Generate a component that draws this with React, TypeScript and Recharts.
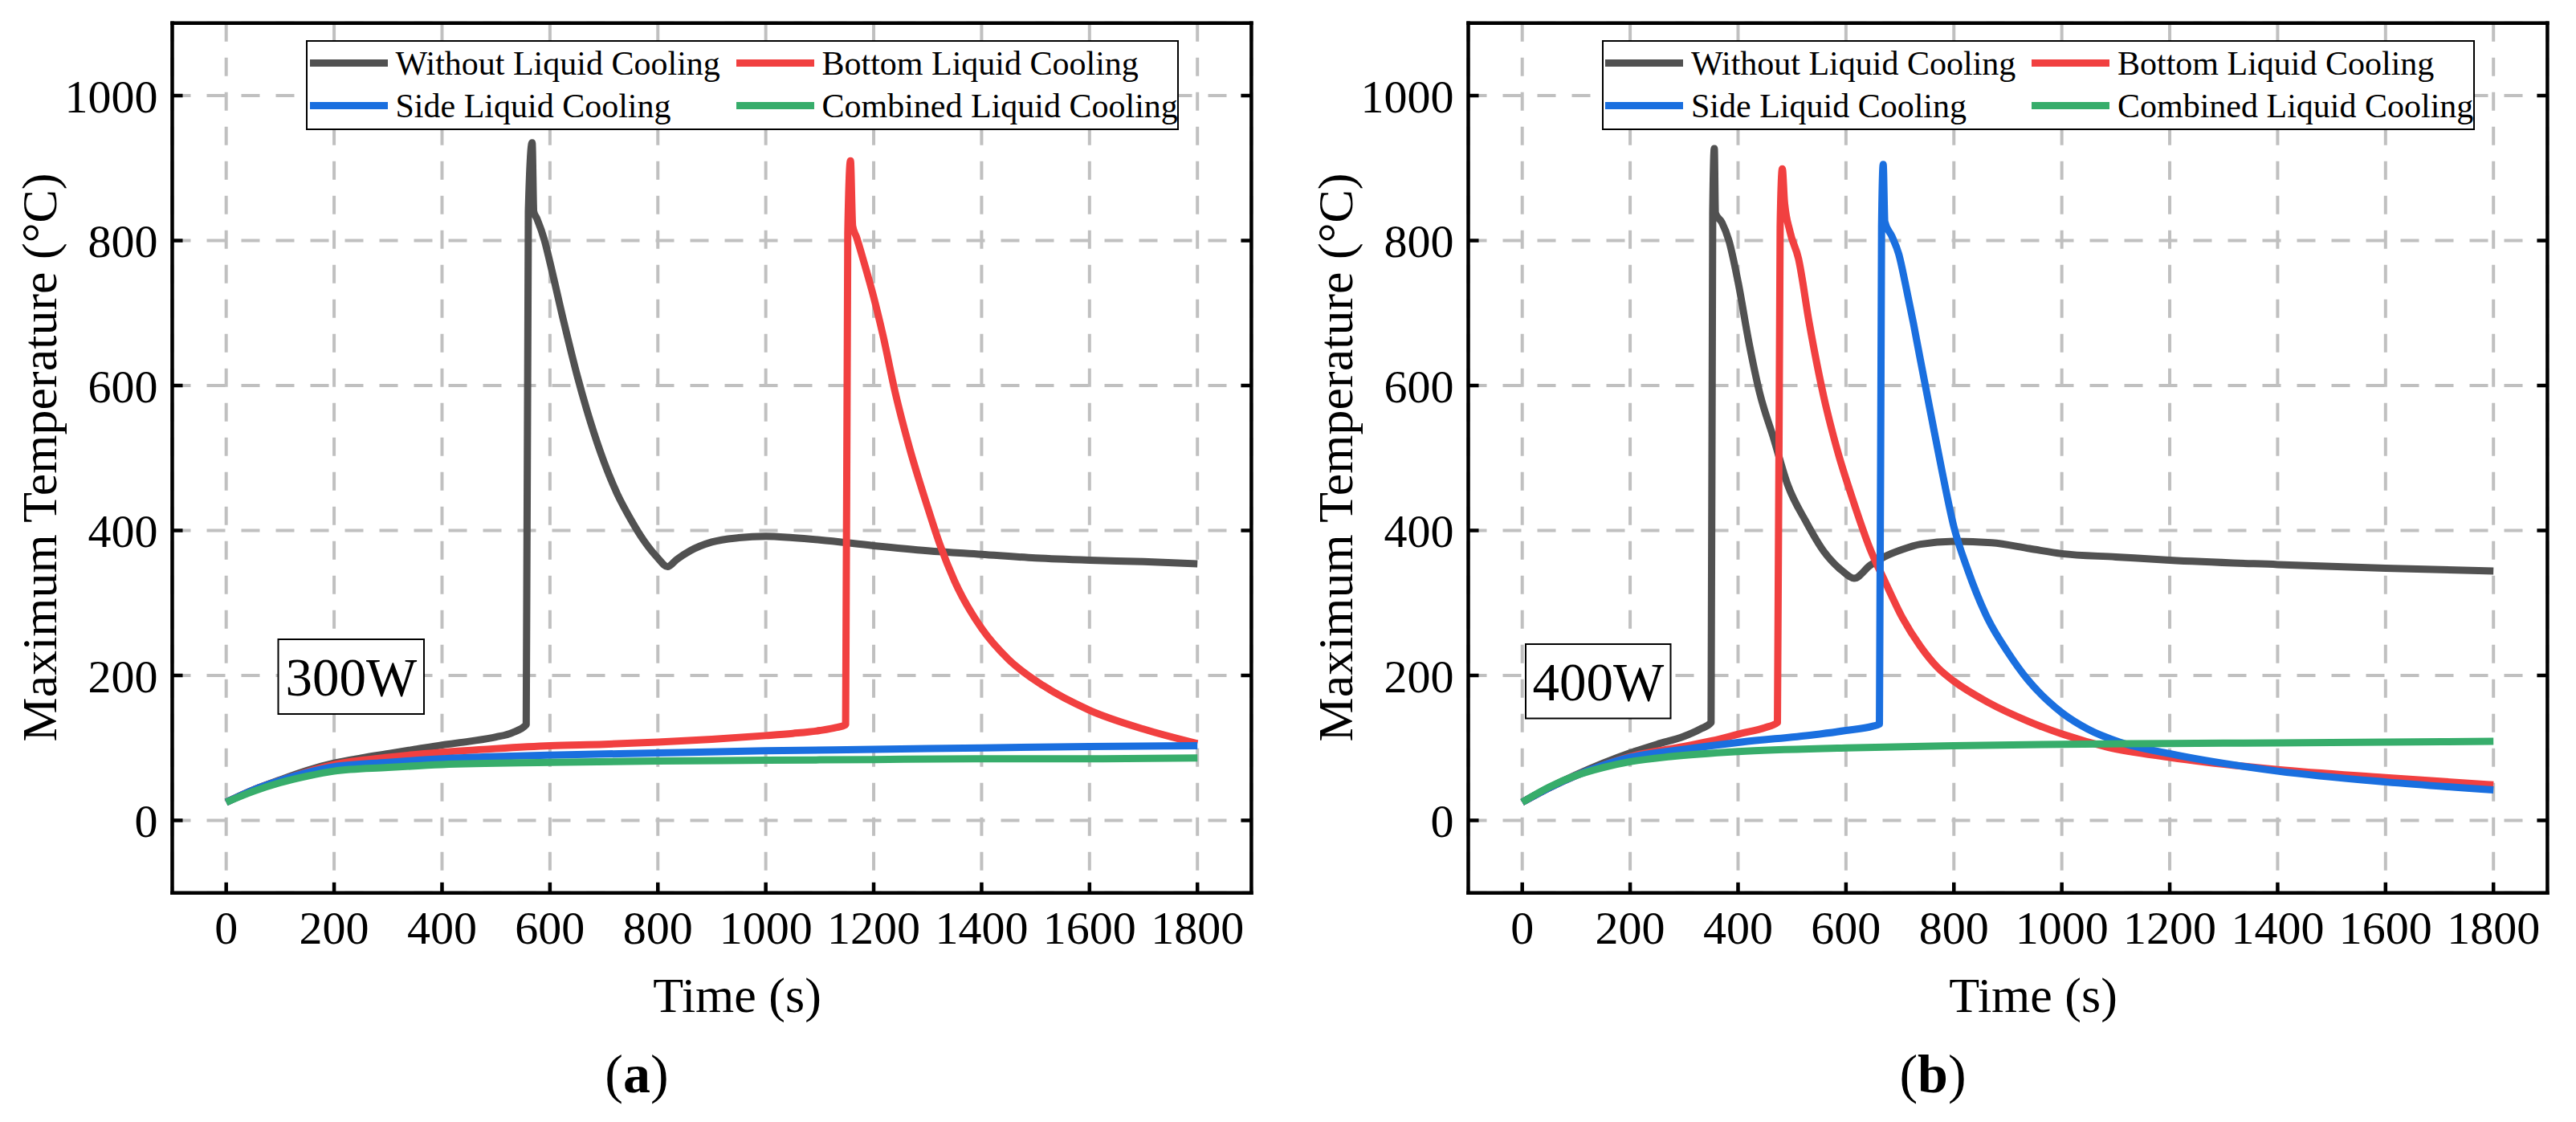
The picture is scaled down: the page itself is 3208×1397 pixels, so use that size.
import { LineChart, Line, XAxis, YAxis, CartesianGrid, Legend } from "recharts";

const FONT = "Liberation Serif, Tinos, Times New Roman, Times, DejaVu Serif, serif";

const X_TICKS = [0, 200, 400, 600, 800, 1000, 1200, 1400, 1600, 1800];
const Y_TICKS = [0, 200, 400, 600, 800, 1000];

const SERIES_NAMES = [
  "Without Liquid Cooling",
  "Bottom Liquid Cooling",
  "Side Liquid Cooling",
  "Combined Liquid Cooling",
];
const SERIES_COLORS = ["#515151", "#F14040", "#1A6FDF", "#37AD6B"];

// (a) 300W
const A_WITHOUT_T = [0, 50, 100, 150, 200, 250, 300, 350, 400, 450, 500, 530, 556, 560, 567, 570, 576, 590, 600, 625, 650, 675, 700, 725, 750, 775, 800, 818, 835, 860, 900, 950, 1000, 1050, 1100, 1200, 1300, 1400, 1500, 1600, 1700, 1800];
const A_WITHOUT_V = [25, 42, 56, 69, 79, 86, 92, 98, 104, 109, 115, 121, 132, 840, 935, 840, 830, 800, 770, 690, 615, 550, 495, 450, 415, 385, 362, 350, 360, 372, 384, 390, 392, 390, 387, 379, 372, 367, 362, 359, 357, 354];
const A_BOTTOM_T = [0, 50, 100, 150, 200, 300, 400, 500, 600, 700, 800, 900, 1000, 1050, 1100, 1130, 1148, 1152, 1157, 1161, 1168, 1182, 1200, 1217, 1240, 1266, 1300, 1323, 1350, 1400, 1450, 1514, 1600, 1700, 1800];
const A_BOTTOM_V = [25, 42, 55, 67, 77, 87, 94, 99, 103, 105, 108, 112, 117, 120, 124, 128, 132, 810, 910, 820, 805, 770, 722, 670, 590, 515, 432, 380, 330, 265, 222, 186, 152, 126, 106];
const A_SIDE_T = [0, 50, 100, 150, 200, 300, 400, 500, 600, 800, 1000, 1200, 1400, 1600, 1800];
const A_SIDE_V = [25, 42, 55, 66, 74, 80, 85, 88, 90, 93, 96, 98, 100, 102, 103];
const A_COMB_T = [0, 50, 100, 150, 200, 300, 400, 600, 800, 1000, 1200, 1400, 1600, 1800];
const A_COMB_V = [25, 40, 52, 61, 68, 73, 77, 80, 82, 83, 84, 85, 85, 86];

// (b) 400W
const B_WITHOUT_T = [0, 50, 100, 150, 200, 250, 300, 330, 350, 353, 356, 358, 370, 383, 400, 420, 440, 466, 492, 526, 559, 592, 615, 645, 672, 705, 738, 800, 870, 940, 1000, 1100, 1200, 1400, 1600, 1800];
const B_WITHOUT_V = [25, 45, 63, 79, 93, 105, 116, 126, 135, 838, 927, 838, 825, 800, 743, 660, 590, 527, 463, 412, 371, 345, 334, 352, 364, 374, 381, 385, 383, 375, 368, 363.5, 359, 353, 348, 344];
const B_BOTTOM_T = [0, 50, 100, 150, 200, 300, 353, 406, 450, 473, 478, 482, 486, 496, 512, 532, 559, 585, 612, 645, 672, 705, 738, 771, 800, 863, 937, 1001, 1085, 1200, 1400, 1600, 1800];
const B_BOTTOM_V = [25, 45, 62, 76, 88, 102, 110, 120, 128, 135, 820, 899, 854, 813, 775, 686, 584, 508, 444, 374, 330, 279, 240, 210, 192, 163, 137, 119, 101, 87, 70, 59, 49];
const B_SIDE_T = [0, 50, 100, 150, 200, 300, 406, 539, 600, 650, 662, 666, 669, 672, 685, 698, 711, 725, 738, 758, 778, 800, 826, 863, 900, 937, 974, 1001, 1048, 1107, 1200, 1400, 1600, 1800];
const B_SIDE_V = [25, 45, 62, 76, 87, 98, 108, 118, 124, 130, 133, 820, 905, 826, 806, 781, 737, 686, 635, 558, 482, 405, 345, 278, 232, 194, 165, 148, 126, 108, 92, 68, 53, 42];
const B_COMB_T = [0, 50, 100, 150, 200, 275, 400, 600, 800, 1000, 1200, 1400, 1600, 1800];
const B_COMB_V = [25, 46, 62, 73, 81, 88, 95, 100, 103, 105, 106, 107, 108, 109];

const toPoints = (t: number[], v: number[]) => t.map((x, i) => ({ t: x, v: v[i] }));

const PANEL_A = [
  toPoints(A_WITHOUT_T, A_WITHOUT_V),
  toPoints(A_BOTTOM_T, A_BOTTOM_V),
  toPoints(A_SIDE_T, A_SIDE_V),
  toPoints(A_COMB_T, A_COMB_V),
];
const PANEL_B = [
  toPoints(B_WITHOUT_T, B_WITHOUT_V),
  toPoints(B_BOTTOM_T, B_BOTTOM_V),
  toPoints(B_SIDE_T, B_SIDE_V),
  toPoints(B_COMB_T, B_COMB_V),
];

const W = 1594;
const H = 1397;
// plot frame inside each panel
const PLOT = { left: 214.5, top: 28.8, right: 1558.4, bottom: 1111.7 };
const AX = 1; // axis box size (0 makes recharts skip the axis)

const AXIS_LINE = { stroke: "#000", strokeWidth: 4.5, strokeLinecap: "square" as const };
const TICK_LINE = { stroke: "#000", strokeWidth: 4.5 };
const TICK_TEXT = { fill: "#000", fontSize: 58, fontFamily: FONT };

function LegendBox() {
  return (
    <div
      style={{
        boxSizing: "border-box",
        width: 1087,
        height: 112,
        border: "2.5px solid #000",
        background: "#fff",
        padding: "0 0 0 2.5px",
        display: "grid",
        gridTemplateColumns: "531px 1fr",
        gridTemplateRows: "53px 53px",
        fontFamily: FONT,
        fontSize: 42,
        color: "#000",
      }}
    >
      {SERIES_NAMES.map((name, i) => (
        <div key={name} style={{ display: "flex", alignItems: "center" }}>
          <div style={{ width: 97, height: 9, background: SERIES_COLORS[i], marginRight: 10 }} />
          <span style={{ lineHeight: 1, whiteSpace: "nowrap" }}>{name}</span>
        </div>
      ))}
    </div>
  );
}

interface PanelProps {
  left: number;
  lines: { t: number; v: number }[][];
  tag: string;
  power: string;
  box: { x: number; y: number; w: number; h: number };
}

function Panel({ left, lines, tag, power, box }: PanelProps) {
  return (
    <div style={{ position: "absolute", left, top: 0, width: W, height: H, fontFamily: FONT }}>
      <LineChart
        width={W}
        height={H}
        style={{ fontFamily: FONT }}
        margin={{
          top: PLOT.top - AX,
          left: PLOT.left - AX,
          right: W - PLOT.right - AX,
          bottom: H - PLOT.bottom - AX,
        }}
      >
        <CartesianGrid stroke="#c0c0c0" strokeWidth={4} strokeDasharray="23 20" />
        <XAxis
          type="number"
          dataKey="t"
          domain={[-100, 1900]}
          ticks={X_TICKS}
          interval={0}
          allowDataOverflow
          height={AX}
          tickSize={-13}
          tickMargin={35.6}
          axisLine={AXIS_LINE}
          tickLine={TICK_LINE}
          tick={TICK_TEXT}
        />
        <XAxis
          xAxisId="top"
          orientation="top"
          type="number"
          domain={[-100, 1900]}
          ticks={X_TICKS}
          interval={0}
          allowDataOverflow
          height={AX}
          tickSize={-13}
          axisLine={AXIS_LINE}
          tickLine={TICK_LINE}
          tickFormatter={() => ""}
        />
        <YAxis
          type="number"
          domain={[-100, 1100]}
          ticks={Y_TICKS}
          interval={0}
          allowDataOverflow
          width={AX}
          tickSize={-13}
          tickMargin={31}
          axisLine={AXIS_LINE}
          tickLine={TICK_LINE}
          tick={TICK_TEXT}
        />
        <YAxis
          yAxisId="right"
          orientation="right"
          type="number"
          domain={[-100, 1100]}
          ticks={Y_TICKS}
          interval={0}
          allowDataOverflow
          width={AX}
          tickSize={-13}
          axisLine={AXIS_LINE}
          tickLine={TICK_LINE}
          tickFormatter={() => ""}
        />
        {lines.map((pts, i) => (
          <Line
            key={SERIES_NAMES[i]}
            name={SERIES_NAMES[i]}
            data={pts}
            dataKey="v"
            type="monotone"
            stroke={SERIES_COLORS[i]}
            strokeWidth={9}
            strokeLinejoin="round"
            dot={false}
            activeDot={false}
            isAnimationActive={false}
          />
        ))}
        <Legend
          layout="vertical"
          align="center"
          verticalAlign="middle"
          wrapperStyle={{ left: 381, top: 50, width: 1087, height: 112 }}
          content={() => <LegendBox />}
        />
      </LineChart>

      <svg
        width={W}
        height={H}
        style={{ position: "absolute", left: 0, top: 0, pointerEvents: "none", fontFamily: FONT }}
      >
        <text x={70} y={569.5} transform="rotate(-90 70 569.5)" textAnchor="middle" fontSize={62}>
          Maximum Temperature (°C)
        </text>
        <text x={918} y={1260} textAnchor="middle" fontSize={62}>
          Time (s)
        </text>
        <text x={793} y={1360} textAnchor="middle" fontSize={68}>
          (<tspan fontWeight="bold">{tag}</tspan>)
        </text>
        <rect x={box.x} y={box.y} width={box.w} height={box.h} fill="#fff" stroke="#000" strokeWidth={2} />
        <text x={box.x + box.w / 2} y={box.y + 70} textAnchor="middle" fontSize={67}>
          {power}
        </text>
      </svg>
    </div>
  );
}

export default function App() {
  return (
    <div style={{ position: "absolute", left: 0, top: 0, width: 3208, height: 1397, background: "#fff" }}>
      <Panel left={0} lines={PANEL_A} tag="a" power="300W" box={{ x: 346.5, y: 796, w: 181.5, h: 93 }} />
      <Panel left={1613.5} lines={PANEL_B} tag="b" power="400W" box={{ x: 286, y: 802, w: 180.5, h: 92.5 }} />
    </div>
  );
}
